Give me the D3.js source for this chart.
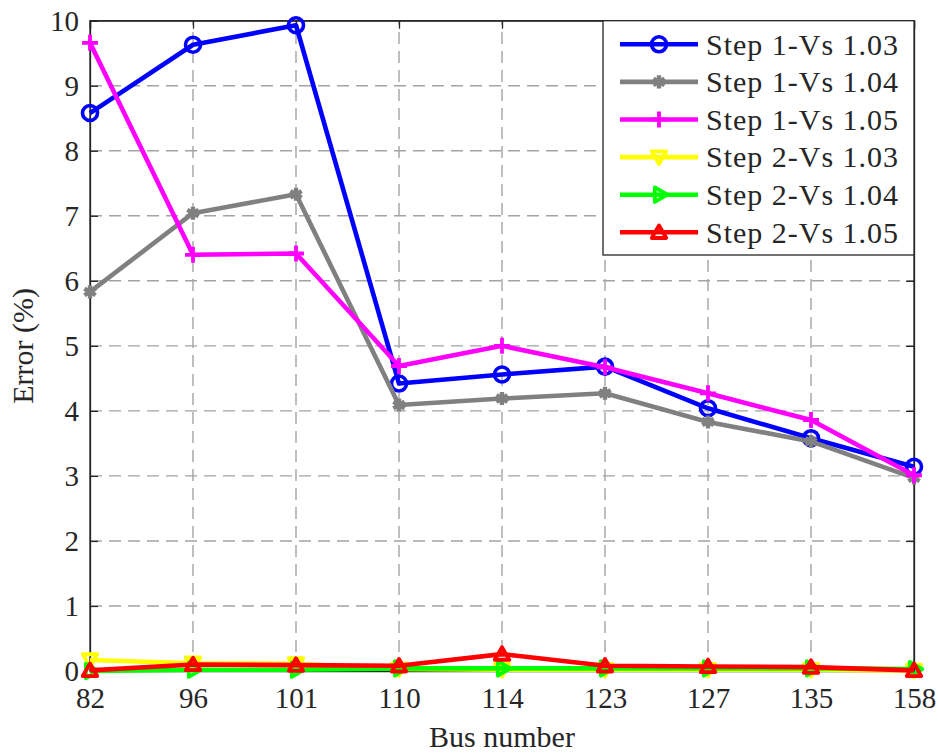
<!DOCTYPE html>
<html>
<head>
<meta charset="utf-8">
<script src="https://cdn.jsdelivr.net/npm/d3@7"></script>
<style>
  html, body { margin: 0; padding: 0; background: #fff; }
  svg text { font-family: "Liberation Serif", "Times New Roman", serif; fill: #262626; }
</style>
</head>
<body>
<svg id="chart" width="938" height="754"></svg>
<script>
// Bus numbers on the x axis (equally spaced categories)
const buses = ["82", "96", "101", "110", "114", "123", "127", "135", "158"];
const yTicks = [0, 1, 2, 3, 4, 5, 6, 7, 8, 9, 10];

// Error (%) per bus for each run
const step1Vs103 = [8.58, 9.63, 9.93, 4.42, 4.56, 4.68, 4.04, 3.58, 3.14];
const step1Vs104 = [5.83, 7.04, 7.33, 4.09, 4.19, 4.27, 3.83, 3.53, 2.97];
const step1Vs105 = [9.66, 6.40, 6.42, 4.69, 5.00, 4.67, 4.27, 3.86, 3.01];
const step2Vs103 = [0.17, 0.12, 0.11, 0.03, 0.02, 0.02, 0.02, 0.02, 0.01];
const step2Vs104 = [0.00, 0.02, 0.02, 0.04, 0.04, 0.04, 0.04, 0.04, 0.03];
const step2Vs105 = [0.01, 0.10, 0.09, 0.08, 0.26, 0.08, 0.07, 0.06, 0.01];

const seriesNames = ["Step 1-Vs 1.03", "Step 1-Vs 1.04", "Step 1-Vs 1.05",
                     "Step 2-Vs 1.03", "Step 2-Vs 1.04", "Step 2-Vs 1.05"];
const seriesValues = [step1Vs103, step1Vs104, step1Vs105, step2Vs103, step2Vs104, step2Vs105];
const seriesColors = ["#0000ff", "#808080", "#ff00ff", "#ffff00", "#00ff00", "#ff0000"];
const seriesMarkers = ["circle", "asterisk", "plus", "triDown", "triRight", "triUp"];

const svg = d3.select("#chart");
const pLeft = 90, pRight = 914, pTop = 20.7, pBottom = 671;
const serif = "Liberation Serif, Times New Roman, serif";

const x = d3.scalePoint().domain(buses).range([pLeft, pRight]);
const y = d3.scaleLinear().domain([0, 10]).range([pBottom, pTop]);

// Dashed grid
const grid = svg.append("g").attr("stroke", "#a3a3a3").attr("stroke-width", 1.4)
  .attr("stroke-dasharray", "12,7");
grid.selectAll("line.v").data(buses.slice(1, -1)).join("line")
  .attr("x1", d => x(d)).attr("x2", d => x(d)).attr("y1", pBottom).attr("y2", pTop);
grid.selectAll("line.h").data(yTicks.slice(1, -1)).join("line")
  .attr("y1", d => y(d)).attr("y2", d => y(d)).attr("x1", pLeft).attr("x2", pRight);

// Axes (ticks drawn inward, box on all four sides)
const tickLen = 8;
const axisColor = "#262626";
const axL = svg.append("g").attr("transform", `translate(${pLeft},0)`)
  .call(d3.axisLeft(y).tickValues(yTicks).tickSize(-tickLen).tickPadding(11).tickFormat(d3.format("d")));
const axR = svg.append("g").attr("transform", `translate(${pRight},0)`)
  .call(d3.axisRight(y).tickValues(yTicks).tickSize(-tickLen).tickFormat(""));
const axB = svg.append("g").attr("transform", `translate(0,${pBottom})`)
  .call(d3.axisBottom(x).tickSize(-tickLen).tickPadding(16));
const axT = svg.append("g").attr("transform", `translate(0,${pTop})`)
  .call(d3.axisTop(x).tickSize(-tickLen).tickFormat(""));
[axL, axR, axB, axT].forEach(a => {
  a.attr("font-family", serif);
  a.select(".domain").attr("stroke", axisColor).attr("stroke-width", 1.3);
  a.selectAll(".tick line").attr("stroke", axisColor).attr("stroke-width", 1.3);
  a.selectAll("text").attr("font-family", serif).attr("font-size", 29).attr("fill", axisColor);
});
axL.selectAll("text").attr("dy", "0.34em");
axB.selectAll("text").attr("dy", "0.72em");
svg.append("rect").attr("x", pLeft).attr("y", pTop).attr("width", pRight - pLeft).attr("height", pBottom - pTop)
  .attr("fill", "none").attr("stroke", axisColor).attr("stroke-width", 1.3);

// Axis titles
svg.append("text").attr("x", (pLeft + pRight) / 2).attr("y", 747).attr("text-anchor", "middle")
  .attr("font-family", serif).attr("font-size", 30).text("Bus number");
svg.append("text").attr("transform", `translate(33,${(pTop + pBottom) / 2}) rotate(-90)`)
  .attr("text-anchor", "middle").attr("font-family", serif).attr("font-size", 30).text("Error (%)");

// Marker shapes
function markerPath(kind) {
  switch (kind) {
    case "asterisk": return d3.symbol(d3.symbolAsterisk, 120)();
    case "plus": return d3.symbol(d3.symbolPlus, 85)();
    default: return d3.symbol(d3.symbolTriangle2, 150)();
  }
}
function drawMarker(g, kind, color, cx, cy) {
  if (kind === "circle") {
    g.append("circle").attr("cx", cx).attr("cy", cy).attr("r", 7.5)
      .attr("fill", "none").attr("stroke", color).attr("stroke-width", 3.6);
    return;
  }
  const rot = kind === "triDown" ? 180 : kind === "triRight" ? 90 : 0;
  const dy = kind === "triUp" ? 1.5 : kind === "triDown" ? -1.5 : 0;
  g.append("path").attr("d", markerPath(kind))
    .attr("transform", `translate(${cx},${cy + dy}) rotate(${rot})`)
    .attr("fill", "none").attr("stroke", color)
    .attr("stroke-width", kind === "asterisk" ? 4.4 : 3.8)
    .attr("stroke-linejoin", "round").attr("stroke-linecap", "butt");
}

// Series lines with markers
const line = d3.line().x((d, i) => x(buses[i])).y(d => y(d));
seriesValues.forEach((vals, s) => {
  const g = svg.append("g");
  g.append("path").datum(vals).attr("d", line)
    .attr("fill", "none").attr("stroke", seriesColors[s]).attr("stroke-width", 4.6)
    .attr("stroke-linejoin", "round");
  vals.forEach((v, i) => drawMarker(g, seriesMarkers[s], seriesColors[s], x(buses[i]), y(v)));
});

// Legend
const lg = svg.append("g");
lg.append("rect").attr("x", 603).attr("y", pTop).attr("width", pRight - 603).attr("height", 255 - pTop)
  .attr("fill", "#fff").attr("stroke", axisColor).attr("stroke-width", 1.3);
seriesNames.forEach((name, s) => {
  const ly = 44.3 + s * 37.6;
  lg.append("line").attr("x1", 620).attr("x2", 698).attr("y1", ly).attr("y2", ly)
    .attr("stroke", seriesColors[s]).attr("stroke-width", 4.6);
  drawMarker(lg, seriesMarkers[s], seriesColors[s], 659, ly);
  lg.append("text").attr("x", 706).attr("y", ly).attr("dy", "0.34em")
    .attr("font-family", serif).attr("font-size", 30).attr("textLength", 192)
    .attr("lengthAdjust", "spacing").text(name);
});
</script>
</body>
</html>
